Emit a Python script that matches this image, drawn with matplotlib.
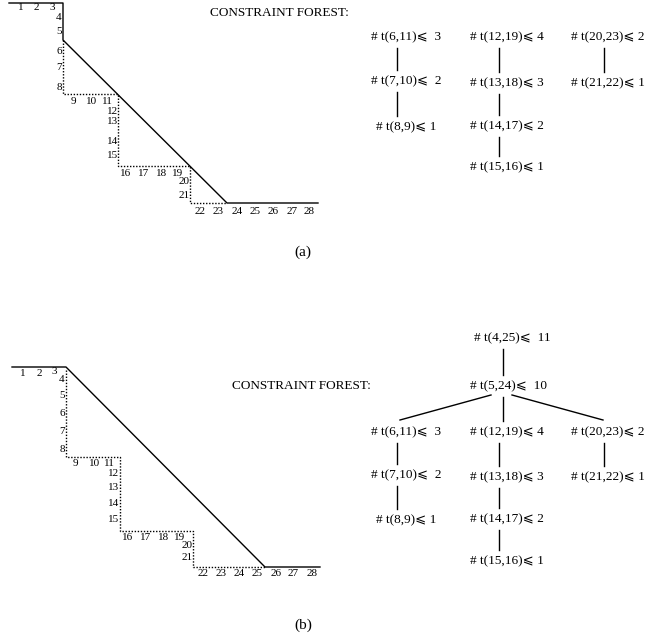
import matplotlib.pyplot as plt

# ---- data -------------------------------------------------------------
cell_numbers = [str(i) for i in range(1, 29)]

# label anchor points (pixel layout) for the numbered cells, panel (a) / (b)
cells_a_x = [21, 36, 52, 59, 59, 59, 59, 59, 73, 92, 107, 113, 113, 113, 113,
             126, 144, 162, 178, 184, 184, 200, 218, 237, 255, 273, 292, 309]
cells_a_y = [8, 8, 7, 17, 32, 51, 68, 87, 101, 101, 101, 111, 122, 141, 156,
             173, 173, 173, 173, 182, 195, 211, 211, 211, 211, 211, 211, 211]
cells_b_x = [23, 39, 54, 62, 62, 62, 62, 62, 75, 95, 109, 114, 114, 114, 114,
             128, 146, 164, 180, 187, 187, 203, 221, 239, 257, 276, 293, 312]
cells_b_y = [373, 373, 372, 379, 395, 413, 431, 449, 464, 464, 464, 474, 487, 504, 520,
             537, 537, 537, 537, 546, 558, 573, 573, 573, 573, 573, 573, 573]

# solid outline and dotted staircase
solid_a = [(9, 3), (63, 3), (63, 40), (227, 203), (318, 203)]
dotted_a = [(63, 40), (63, 94), (118, 94), (118, 166), (190, 166), (190, 203), (227, 203)]
solid_b = [(12, 367), (66, 367), (265, 567), (320, 567)]
dotted_b = [(66, 370), (66, 457), (120, 457), (120, 531), (193, 531), (193, 567), (265, 567)]

# constraint forest nodes
nodes_a = ["# t(6,11)\u2a7d  3", "# t(7,10)\u2a7d  2", "# t(8,9)\u2a7d 1",
           "# t(12,19)\u2a7d 4", "# t(13,18)\u2a7d 3", "# t(14,17)\u2a7d 2", "# t(15,16)\u2a7d 1",
           "# t(20,23)\u2a7d 2", "# t(21,22)\u2a7d 1"]
nodes_a_x = [397, 397, 397, 499, 499, 499, 499, 604, 604]      # stem position
nodes_a_tx = [406, 406, 406, 507, 507, 507, 507, 608, 608]     # text centre
nodes_a_y = [37, 81, 127, 37, 83, 126, 167, 37, 83]
edges_a = [(0, 1), (1, 2), (3, 4), (4, 5), (5, 6), (7, 8)]

nodes_b = ["# t(4,25)\u2a7d  11", "# t(5,24)\u2a7d  10"] + nodes_a
nodes_b_x = [503, 503] + nodes_a_x
nodes_b_tx = [512, 508] + nodes_a_tx
nodes_b_y = [338, 386, 432, 475, 520, 432, 477, 519, 561, 432, 477]
edges_b = [(0, 1), (1, 2), (1, 5), (1, 9)] + [(a + 2, b + 2) for a, b in edges_a]

SERIF = ['Liberation Serif', 'DejaVu Serif', 'DejaVu Sans']

fig = plt.figure(figsize=(6.56, 6.38), dpi=100)
ax = fig.add_axes([0, 0, 1, 1])
ax.set_xlim(0, 656)
ax.set_ylim(638, 0)
ax.axis('off')


def draw_stair(solid, dotted, xs, ys):
    sx, sy = zip(*solid)
    ax.plot(sx, sy, color='black', linewidth=1.0)
    dx, dy = zip(*dotted)
    ax.plot(dx, dy, color='black', linewidth=1.0, linestyle=(0, (1, 1.2)))
    for lab, x, y in zip(cell_numbers, xs, ys):
        ax.text(x, y, lab, ha='center', va='center', fontsize=8, family=SERIF)


def draw_tree(labels, xs, txs, ys, edges):
    for lab, x, y in zip(labels, txs, ys):
        ax.text(x, y, lab, ha='center', va='center', fontsize=9.5, family=SERIF)
    for a, b in edges:
        x0, y0 = xs[a], ys[a]
        x1, y1 = xs[b], ys[b]
        if abs(x0 - x1) < 10:
            ax.plot([x0, x0], [y0 + 11, y1 - 11], color='black', linewidth=1.0)
        else:
            # fan-out from the root node toward the side children
            sx = x0 - 12 if x1 < x0 else x0 + 9
            ax.plot([sx, x1 + (3 if x1 < x0 else -1)], [y0 + 9, y1 - 12],
                    color='black', linewidth=1.0)


draw_stair(solid_a, dotted_a, cells_a_x, cells_a_y)
draw_stair(solid_b, dotted_b, cells_b_x, cells_b_y)
draw_tree(nodes_a, nodes_a_x, nodes_a_tx, nodes_a_y, edges_a)
draw_tree(nodes_b, nodes_b_x, nodes_b_tx, nodes_b_y, edges_b)

ax.text(210, 13, "CONSTRAINT FOREST:", ha='left', va='center', fontsize=9.5, family=SERIF)
ax.text(232, 386, "CONSTRAINT FOREST:", ha='left', va='center', fontsize=9.5, family=SERIF)
ax.text(303, 252, "(a)", ha='center', va='center', fontsize=11, family=SERIF)
ax.text(303, 625, "(b)", ha='center', va='center', fontsize=11, family=SERIF)

plt.savefig("out.png", dpi=100)
plt.close()
